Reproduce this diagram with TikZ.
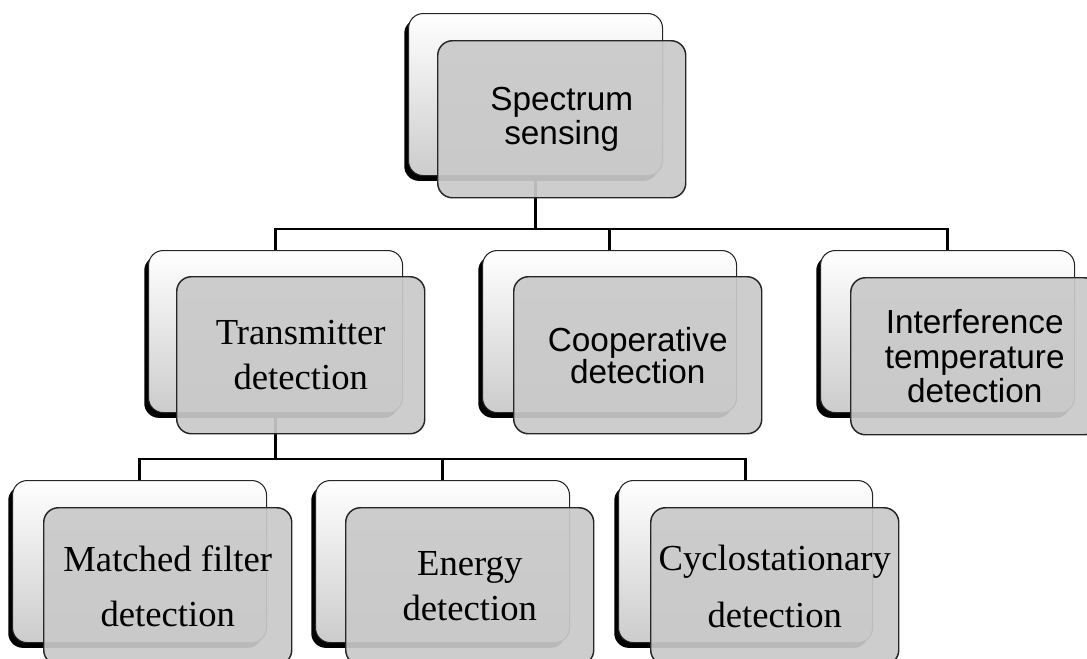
\documentclass[tikz,border=0pt]{standalone}
\usepackage{fontspec}
\setmainfont{Liberation Serif}
\setsansfont{Liberation Sans}
\usetikzlibrary{shadows}
\begin{document}
\begin{tikzpicture}[x=0.75pt, y=-0.75pt,
        backbox/.style={draw=black!85, line width=0.8pt, rounded corners=11pt,
            top color=white, bottom color=black!20, anchor=north west,
            minimum width=190.5pt, minimum height=121.5pt, inner sep=0pt,
            drop shadow={shadow xshift=-3.2pt, shadow yshift=-4pt, fill=black, opacity=1}},
        frontbox/.style={draw=black!85, line width=1.1pt, rounded corners=11pt,
            fill=black!21, fill opacity=0.92, text opacity=1, anchor=north west,
            minimum width=186pt, minimum height=117.75pt, inner sep=0pt, align=center},
        sanslbl/.style={font=\sffamily\fontsize{25}{26}\selectfont},
        seriflbl/.style={font=\fontsize{27.5}{34}\selectfont},
        conn/.style={line width=2pt}]
                \useasboundingbox (0,0) rectangle (1087,658);
                \node[backbox] (sensb) at (408,13) {};
                \node[backbox] (transb) at (148,250) {};
                \node[backbox] (coopb) at (482,250) {};
                \node[backbox] (intb) at (820,250) {};
                \node[backbox] (matchb) at (12,480) {};
                \node[backbox] (energyb) at (315,480) {};
                \node[backbox] (cyclob) at (618,480) {};
                \path (sensb.south) ++(0,53) coordinate (busa);
                \path (transb.south) ++(0,46) coordinate (busb);
                \draw[conn] (sensb.south) -- (busa);
                \foreach \c in {transb,coopb,intb}
                    {
                        \draw[conn] (busa) -| (\c.north);
                    }
                \draw[conn] (transb.south) -- (busb);
                \foreach \c in {matchb,energyb,cyclob}
                    {
                        \draw[conn] (busb) -| (\c.north);
                    }
                \node[frontbox, sanslbl] (sensf) at (437,40) {Spectrum\\sensing};
                \node[frontbox, seriflbl] (transf) at (176,276) {Transmitter\\detection};
                \node[frontbox, sanslbl] (coopf) at (513,276) {Cooperative\\[-2pt]detection};
                \node[frontbox, sanslbl] (intf) at (850,277) {Interference\\temperature\\detection};
                \node[frontbox, seriflbl] (matchf) at (43,507) {Matched filter\\[7pt]detection};
                \node[frontbox, seriflbl] (energyf) at (345,507) {Energy\\detection};
                \node[frontbox, seriflbl] (cyclof) at (650,507) {Cyclostationary\\[9pt]detection};
            \end{tikzpicture}
\end{document}
